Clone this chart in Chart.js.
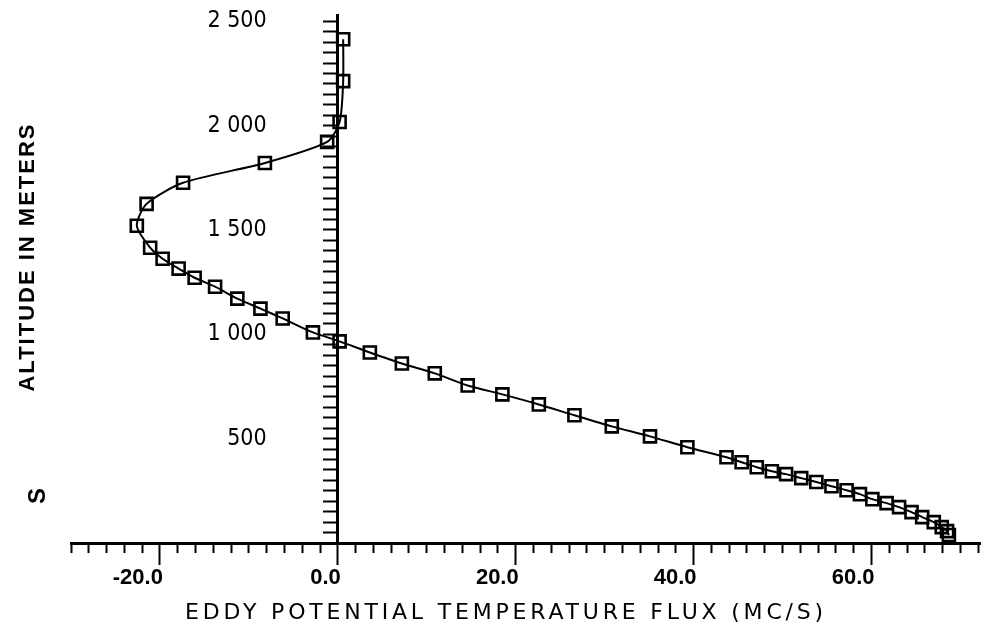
<!DOCTYPE html>
<html>
<head>
<meta charset="utf-8">
<title>Eddy potential temperature flux</title>
<script src="https://cdn.jsdelivr.net/npm/chart.js@4.4.1/dist/chart.umd.min.js"></script>
<style>
    html, body { margin: 0; padding: 0; background: #fff; }
    #wrap { width: 983px; height: 625px; position: relative; }
</style>
</head>
<body>
<div id="wrap"><canvas id="fluxChart"></canvas></div>
<script>
// Profile, bottom to top
const altitudes = [38, 57, 76, 100, 124, 148, 172, 191, 210, 234, 253, 272, 292, 311, 330, 344, 363, 387, 411,
    459, 511, 559, 612, 664, 712, 755, 813, 860, 913, 966, 1009, 1076, 1123, 1171, 1228, 1271, 1315, 1362, 1415,
    1520, 1625, 1726, 1821, 1922, 2017, 2213, 2414];
const fluxValues = [68.7, 68.5, 67.9, 67.0, 65.7, 64.5, 63.1, 61.7, 60.1, 58.7, 57.2, 55.5, 53.8, 52.1, 50.4, 48.8, 47.1, 45.4, 43.7,
    39.3, 35.1, 30.8, 26.6, 22.6, 18.5, 14.6, 10.9, 7.2, 3.6, 0.2, -2.8, -6.2, -8.7, -11.3, -13.8, -16.1, -17.9, -19.7, -21.1,
    -22.6, -21.5, -17.4, -8.2, -1.2, 0.2, 0.6, 0.6];

// Axis ticks
const xMajorTicks = [-20, 0, 20, 40, 60];
const xTickLabels = ['-20.0', '0.0', '20.0', '40.0', '60.0'];
const xMinorStep = 2;
const yLabelTicks = [500, 1000, 1500, 2000, 2500];
const yTickLabels = ['500', '1 000', '1 500', '2 000', '2 500'];
const yMinorStep = 50;
const yLabelColumn = -8;   // flux value where the altitude labels end

const X_TITLE = 'EDDY POTENTIAL TEMPERATURE FLUX (MC/S)';
const Y_TITLE = 'ALTITUDE IN METERS';

const points = altitudes.map((a, i) => ({ x: fluxValues[i], y: a }));

// titles are plain canvas text next to the axes
const axisTitles = {
    id: 'axisTitles',
    afterDraw(chart) {
        const ctx = chart.ctx;
        ctx.save();
        ctx.fillStyle = '#000';
        ctx.textAlign = 'center';
        ctx.textBaseline = 'middle';

        ctx.font = '22px "DejaVu Sans"';
        ctx.letterSpacing = '3.8px';
        ctx.fillText(X_TITLE, 506, 613);

        ctx.font = 'bold 22px "Liberation Sans"';
        ctx.letterSpacing = '2px';
        ctx.translate(28, 257);
        ctx.rotate(-Math.PI / 2);
        ctx.fillText(Y_TITLE, 0, 0);
        ctx.restore();

        ctx.save();
        ctx.fillStyle = '#000';
        ctx.textAlign = 'center';
        ctx.textBaseline = 'middle';
        ctx.font = 'bold 24px "Liberation Sans"';
        ctx.translate(38, 496);
        ctx.rotate(-Math.PI / 2);
        ctx.fillText('S', 0, 0);
        ctx.restore();
    }
};

function minorTicks(min, max, step) {
    const out = [];
    for (let v = Math.ceil(min / step) * step; v <= max + 1e-9; v += step) out.push({ value: Math.round(v * 100) / 100 });
    return out;
}

new Chart(document.getElementById('fluxChart'), {
    type: 'scatter',
    data: {
        datasets: [{
            data: points,
            showLine: true,
            borderColor: '#000',
            borderWidth: 2,
            tension: 0.25,
            pointStyle: 'rect',
            pointRadius: 8.5,
            pointBorderWidth: 2.6,
            pointBorderColor: '#000',
            pointBackgroundColor: 'rgba(0,0,0,0)'
        }]
    },
    options: {
        responsive: true,
        maintainAspectRatio: false,
        animation: false,
        layout: { autoPadding: false, padding: { left: 71, right: 3, top: 15, bottom: 82 } },
        plugins: { legend: { display: false }, tooltip: { enabled: false } },
        scales: {
            x: {
                type: 'linear',
                position: { y: 0 },
                min: -30,
                max: 72.2,
                afterBuildTicks: (scale) => { scale.ticks = minorTicks(-30, 72, xMinorStep); },
                border: { display: true, color: '#000', width: 3 },
                grid: {
                    drawOnChartArea: false,
                    drawTicks: true,
                    tickLength: 20,
                    tickWidth: 2,
                    tickColor: '#000',
                    tickBorderDash: (c) => xMajorTicks.includes(c.tick && c.tick.value) ? [] : [8, 40]
                },
                ticks: {
                    autoSkip: false,
                    maxRotation: 0,
                    align: 'end',
                    labelOffset: 3,
                    padding: 2,
                    color: '#000',
                    font: { family: '"Liberation Sans"', size: 22, weight: 'bold' },
                    callback: (v) => {
                        const i = xMajorTicks.indexOf(v);
                        return i >= 0 ? xTickLabels[i] : '';
                    }
                }
            },
            y: {
                type: 'linear',
                position: { x: 0 },
                min: 0,
                max: 2530,
                afterBuildTicks: (scale) => { scale.ticks = minorTicks(50, 2500, yMinorStep); },
                border: { display: true, color: '#000', width: 3 },
                grid: {
                    drawOnChartArea: false,
                    drawTicks: true,
                    tickLength: 13,
                    tickWidth: 2,
                    tickColor: '#000'
                },
                ticks: { display: false, autoSkip: false, padding: 0 }
            },
            yLabels: {
                axis: 'y',
                type: 'linear',
                position: { x: yLabelColumn },
                min: 0,
                max: 2530,
                afterBuildTicks: (scale) => { scale.ticks = yLabelTicks.map(v => ({ value: v })); },
                border: { display: false },
                grid: { display: false, drawTicks: false },
                ticks: {
                    autoSkip: false,
                    padding: 0,
                    color: '#000',
                    font: { family: '"DejaVu Sans Condensed", "Liberation Sans Narrow", "DejaVu Sans"', size: 23 },
                    callback: (v) => {
                        const i = yLabelTicks.indexOf(v);
                        return i >= 0 ? yTickLabels[i] : '';
                    }
                }
            }
        }
    },
    plugins: [axisTitles]
});
</script>
</body>
</html>
